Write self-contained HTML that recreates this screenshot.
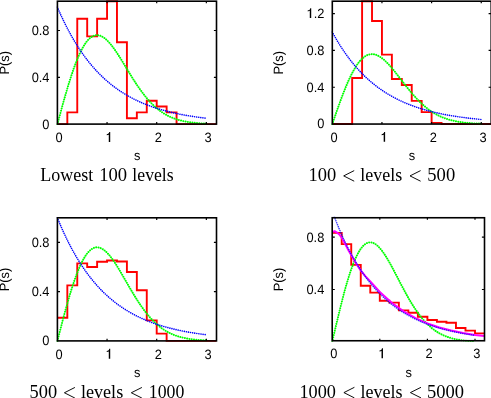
<!DOCTYPE html>
<html><head><meta charset="utf-8"><title>P(s)</title>
<style>html,body{margin:0;padding:0;background:#fff;}body{width:491px;height:398px;position:relative;overflow:hidden;font-family:"Liberation Sans",sans-serif;}</style>
</head><body><div style="will-change:transform;position:absolute;left:0;top:0;width:491px;height:398px">
<svg width="491" height="398" viewBox="0 0 491 398" style="position:absolute;left:0;top:0">
<rect width="491" height="398" fill="#fff"/>
<clipPath id="c0"><rect x="56.40" y="0.20" width="161.10" height="124.90"/></clipPath>
<g clip-path="url(#c0)" fill="none">
<path d="M57.40,124.10 L67.33,124.10 L67.33,112.40 L77.26,112.40 L77.26,18.80 L87.19,18.80 L87.19,36.35 L97.12,36.35 L97.12,18.80 L107.05,18.80 L107.05,1.20 L116.98,1.20 L116.98,42.20 L126.91,42.20 L126.91,118.25 L136.84,118.25 L136.84,112.40 L146.77,112.40 L146.77,100.70 L156.70,100.70 L156.70,106.55 L166.63,106.55 L166.63,112.40 L176.56,112.40 L176.56,124.10 L186.49,124.10 L186.49,124.10 L196.42,124.10 L196.42,124.10 L206.35,124.10 L206.35,124.10 L216.28,124.10" stroke="#ff0000" stroke-width="1.9" stroke-linejoin="miter"/>
<polyline points="57.40,124.10 58.39,120.43 59.39,116.76 60.38,113.10 61.37,109.47 62.36,105.87 63.36,102.29 64.35,98.76 65.34,95.28 66.34,91.85 67.33,88.48 68.32,85.18 69.32,81.94 70.31,78.79 71.30,75.71 72.30,72.73 73.29,69.83 74.28,67.04 75.27,64.34 76.27,61.75 77.26,59.27 78.25,56.90 79.25,54.64 80.24,52.50 81.23,50.49 82.22,48.59 83.22,46.82 84.21,45.17 85.20,43.65 86.20,42.26 87.19,40.99 88.18,39.85 89.18,38.83 90.17,37.95 91.16,37.19 92.16,36.55 93.15,36.03 94.14,35.64 95.13,35.36 96.13,35.20 97.12,35.16 98.11,35.23 99.11,35.40 100.10,35.68 101.09,36.07 102.09,36.55 103.08,37.13 104.07,37.79 105.06,38.55 106.06,39.39 107.05,40.31 108.04,41.30 109.04,42.36 110.03,43.50 111.02,44.69 112.02,45.94 113.01,47.25 114.00,48.60 114.99,50.01 115.99,51.45 116.98,52.93 117.97,54.44 118.97,55.98 119.96,57.55 120.95,59.14 121.94,60.74 122.94,62.36 123.93,63.99 124.92,65.63 125.92,67.27 126.91,68.91 127.90,70.54 128.90,72.18 129.89,73.80 130.88,75.41 131.88,77.01 132.87,78.59 133.86,80.16 134.85,81.70 135.85,83.23 136.84,84.72 137.83,86.20 138.83,87.65 139.82,89.07 140.81,90.46 141.81,91.82 142.80,93.14 143.79,94.44 144.78,95.70 145.78,96.94 146.77,98.13 147.76,99.30 148.76,100.42 149.75,101.52 150.74,102.58 151.73,103.60 152.73,104.59 153.72,105.55 154.71,106.47 155.71,107.36 156.70,108.22 157.69,109.04 158.69,109.83 159.68,110.59 160.67,111.32 161.66,112.01 162.66,112.68 163.65,113.32 164.64,113.93 165.64,114.51 166.63,115.07 167.62,115.60 168.62,116.10 169.61,116.58 170.60,117.04 171.59,117.47 172.59,117.88 173.58,118.27 174.57,118.64 175.57,118.99 176.56,119.32 177.55,119.63 178.55,119.92 179.54,120.20 180.53,120.46 181.53,120.71 182.52,120.94 183.51,121.16 184.50,121.36 185.50,121.56 186.49,121.74 187.48,121.91 188.48,122.06 189.47,122.21 190.46,122.35 191.46,122.48 192.45,122.60 193.44,122.72 194.43,122.82 195.43,122.92 196.42,123.01 197.41,123.10 198.41,123.17 199.40,123.25 200.39,123.32 201.38,123.38 202.38,123.44 203.37,123.49 204.36,123.54 205.36,123.59 206.35,123.63" stroke="#00ff00" stroke-width="2.0" stroke-linecap="round" stroke-dasharray="0.01 2.3"/>
<polyline points="57.40,7.10 58.39,9.42 59.39,11.69 60.38,13.91 61.37,16.10 62.36,18.23 63.36,20.33 64.35,22.39 65.34,24.40 66.34,26.37 67.33,28.31 68.32,30.21 69.32,32.06 70.31,33.89 71.30,35.67 72.30,37.42 73.29,39.14 74.28,40.82 75.27,42.47 76.27,44.09 77.26,45.67 78.25,47.23 79.25,48.75 80.24,50.24 81.23,51.70 82.22,53.14 83.22,54.54 84.21,55.92 85.20,57.27 86.20,58.59 87.19,59.89 88.18,61.16 89.18,62.41 90.17,63.63 91.16,64.83 92.16,66.00 93.15,67.15 94.14,68.28 95.13,69.38 96.13,70.47 97.12,71.53 98.11,72.57 99.11,73.59 100.10,74.59 101.09,75.57 102.09,76.53 103.08,77.47 104.07,78.40 105.06,79.30 106.06,80.19 107.05,81.06 108.04,81.91 109.04,82.75 110.03,83.56 111.02,84.37 112.02,85.15 113.01,85.93 114.00,86.68 114.99,87.42 115.99,88.15 116.98,88.86 117.97,89.56 118.97,90.24 119.96,90.91 120.95,91.57 121.94,92.21 122.94,92.85 123.93,93.46 124.92,94.07 125.92,94.67 126.91,95.25 127.90,95.82 128.90,96.38 129.89,96.93 130.88,97.47 131.88,97.99 132.87,98.51 133.86,99.02 134.85,99.51 135.85,100.00 136.84,100.48 137.83,100.95 138.83,101.40 139.82,101.85 140.81,102.29 141.81,102.73 142.80,103.15 143.79,103.56 144.78,103.97 145.78,104.37 146.77,104.76 147.76,105.14 148.76,105.52 149.75,105.89 150.74,106.25 151.73,106.60 152.73,106.95 153.72,107.29 154.71,107.62 155.71,107.95 156.70,108.27 157.69,108.58 158.69,108.89 159.68,109.19 160.67,109.48 161.66,109.77 162.66,110.06 163.65,110.33 164.64,110.61 165.64,110.87 166.63,111.14 167.62,111.39 168.62,111.64 169.61,111.89 170.60,112.13 171.59,112.37 172.59,112.60 173.58,112.83 174.57,113.05 175.57,113.27 176.56,113.49 177.55,113.70 178.55,113.90 179.54,114.10 180.53,114.30 181.53,114.50 182.52,114.69 183.51,114.87 184.50,115.06 185.50,115.23 186.49,115.41 187.48,115.58 188.48,115.75 189.47,115.92 190.46,116.08 191.46,116.24 192.45,116.39 193.44,116.55 194.43,116.69 195.43,116.84 196.42,116.99 197.41,117.13 198.41,117.26 199.40,117.40 200.39,117.53 201.38,117.66 202.38,117.79 203.37,117.91 204.36,118.04 205.36,118.16 206.35,118.27" stroke="#0000ff" stroke-width="1.6" stroke-linecap="round" stroke-dasharray="0.01 2.1"/>
</g>
<rect x="57.40" y="1.20" width="159.10" height="122.90" fill="none" stroke="#000" stroke-width="1.6"/>
<path d="M107.05,124.10v-2.1 M107.05,1.20v2.1 M156.70,124.10v-2.1 M156.70,1.20v2.1 M206.35,124.10v-2.1 M206.35,1.20v2.1 M57.40,77.30h2.6 M216.50,77.30h-2.6 M57.40,30.50h2.6 M216.50,30.50h-2.6" stroke="#000" stroke-width="1.2" fill="none"/>
<g font-family="Liberation Sans, sans-serif" font-size="13.5px" fill="#000" text-rendering="geometricPrecision">
<text transform="translate(49.50,128.50) scale(0.95,1)" text-anchor="end">0</text>
<text transform="translate(49.50,81.70) scale(0.95,1)" text-anchor="end">0.4</text>
<text transform="translate(49.50,34.90) scale(0.95,1)" text-anchor="end">0.8</text>
<text transform="translate(59.10,141.90) scale(0.95,1)" text-anchor="middle">0</text>
<path d="M110.22,141.90 V132.00 H109.25 C109.00,133.50 108.00,134.10 106.75,134.20 V135.25 C107.70,135.20 108.40,135.00 108.78,134.70 V141.90 Z" fill="#000" stroke="none"/>
<text transform="translate(158.40,141.90) scale(0.95,1)" text-anchor="middle">2</text>
<text transform="translate(208.05,141.90) scale(0.95,1)" text-anchor="middle">3</text>
<text transform="translate(137.25,160.20) scale(0.95,1)" text-anchor="middle">s</text>
<text transform="translate(8.50,62.85) rotate(-90) scale(0.95,1)" text-anchor="middle">P(s)</text>
</g>
<g font-family="Liberation Serif, serif" font-size="18.5px" fill="#000">
<text x="40.34" y="181.30" textLength="53.03" lengthAdjust="spacingAndGlyphs">Lowest</text>
<text x="99.22" y="181.30" textLength="27.94" lengthAdjust="spacingAndGlyphs">100</text>
<text x="132.36" y="181.30" textLength="41.28" lengthAdjust="spacingAndGlyphs">levels</text>
</g>
<clipPath id="c1"><rect x="331.30" y="0.20" width="160.90" height="124.85"/></clipPath>
<g clip-path="url(#c1)" fill="none">
<path d="M332.30,124.05 L342.23,124.05 L342.23,124.05 L352.16,124.05 L352.16,78.05 L362.09,78.05 L362.09,1.20 L372.02,1.20 L372.02,21.01 L381.95,21.01 L381.95,54.59 L391.88,54.59 L391.88,78.97 L401.81,78.97 L401.81,84.95 L411.74,84.95 L411.74,100.87 L421.67,100.87 L421.67,112.09 L431.60,112.09 L431.60,122.90 L441.53,122.90 L441.53,124.05 L451.46,124.05 L451.46,124.05 L461.39,124.05 L461.39,124.05 L471.32,124.05 L471.32,124.05 L481.25,124.05 L481.25,124.05 L491.18,124.05" stroke="#ff0000" stroke-width="1.9" stroke-linejoin="miter"/>
<polyline points="332.30,124.05 333.29,121.16 334.29,118.28 335.28,115.40 336.27,112.55 337.26,109.71 338.26,106.90 339.25,104.13 340.24,101.39 341.24,98.69 342.23,96.04 343.22,93.44 344.22,90.90 345.21,88.42 346.20,86.00 347.19,83.65 348.19,81.38 349.18,79.18 350.17,77.06 351.17,75.02 352.16,73.07 353.15,71.21 354.15,69.43 355.14,67.75 356.13,66.17 357.12,64.67 358.12,63.28 359.11,61.99 360.10,60.79 361.10,59.69 362.09,58.70 363.08,57.80 364.08,57.00 365.07,56.31 366.06,55.71 367.06,55.21 368.05,54.80 369.04,54.49 370.03,54.27 371.03,54.15 372.02,54.11 373.01,54.17 374.01,54.31 375.00,54.53 375.99,54.83 376.99,55.21 377.98,55.66 378.97,56.19 379.96,56.78 380.96,57.44 381.95,58.16 382.94,58.94 383.94,59.78 384.93,60.67 385.92,61.61 386.92,62.59 387.91,63.62 388.90,64.69 389.89,65.79 390.89,66.92 391.88,68.09 392.87,69.27 393.87,70.49 394.86,71.72 395.85,72.97 396.85,74.23 397.84,75.50 398.83,76.78 399.82,78.07 400.82,79.36 401.81,80.65 402.80,81.94 403.80,83.22 404.79,84.50 405.78,85.76 406.77,87.02 407.77,88.27 408.76,89.50 409.75,90.71 410.75,91.91 411.74,93.09 412.73,94.25 413.73,95.39 414.72,96.50 415.71,97.59 416.71,98.66 417.70,99.71 418.69,100.73 419.68,101.72 420.68,102.69 421.67,103.63 422.66,104.55 423.66,105.43 424.65,106.29 425.64,107.13 426.63,107.93 427.63,108.71 428.62,109.46 429.61,110.19 430.61,110.89 431.60,111.56 432.59,112.21 433.59,112.83 434.58,113.43 435.57,114.00 436.56,114.55 437.56,115.07 438.55,115.57 439.54,116.05 440.54,116.51 441.53,116.95 442.52,117.36 443.52,117.76 444.51,118.14 445.50,118.49 446.50,118.84 447.49,119.16 448.48,119.46 449.47,119.75 450.47,120.03 451.46,120.29 452.45,120.53 453.45,120.76 454.44,120.98 455.43,121.19 456.43,121.38 457.42,121.57 458.41,121.74 459.40,121.90 460.40,122.05 461.39,122.19 462.38,122.32 463.38,122.45 464.37,122.57 465.36,122.68 466.36,122.78 467.35,122.87 468.34,122.96 469.33,123.04 470.33,123.12 471.32,123.19 472.31,123.26 473.31,123.32 474.30,123.38 475.29,123.43 476.28,123.48 477.28,123.53 478.27,123.57 479.26,123.61 480.26,123.65 481.25,123.68" stroke="#00ff00" stroke-width="2.0" stroke-linecap="round" stroke-dasharray="0.01 2.3"/>
<polyline points="332.30,32.05 333.29,33.87 334.29,35.66 335.28,37.41 336.27,39.12 337.26,40.80 338.26,42.45 339.25,44.07 340.24,45.65 341.24,47.21 342.23,48.73 343.22,50.22 344.22,51.68 345.21,53.11 346.20,54.52 347.19,55.89 348.19,57.24 349.18,58.57 350.17,59.86 351.17,61.13 352.16,62.38 353.15,63.60 354.15,64.80 355.14,65.97 356.13,67.12 357.12,68.25 358.12,69.35 359.11,70.44 360.10,71.50 361.10,72.54 362.09,73.56 363.08,74.56 364.08,75.54 365.07,76.50 366.06,77.44 367.06,78.36 368.05,79.27 369.04,80.16 370.03,81.02 371.03,81.88 372.02,82.71 373.01,83.53 374.01,84.33 375.00,85.12 375.99,85.89 376.99,86.65 377.98,87.39 378.97,88.11 379.96,88.82 380.96,89.52 381.95,90.21 382.94,90.88 383.94,91.53 384.93,92.18 385.92,92.81 386.92,93.43 387.91,94.03 388.90,94.63 389.89,95.21 390.89,95.78 391.88,96.34 392.87,96.89 393.87,97.43 394.86,97.95 395.85,98.47 396.85,98.98 397.84,99.47 398.83,99.96 399.82,100.44 400.82,100.90 401.81,101.36 402.80,101.81 403.80,102.25 404.79,102.68 405.78,103.11 406.77,103.52 407.77,103.93 408.76,104.33 409.75,104.72 410.75,105.10 411.74,105.48 412.73,105.84 413.73,106.20 414.72,106.56 415.71,106.90 416.71,107.24 417.70,107.58 418.69,107.90 419.68,108.22 420.68,108.54 421.67,108.84 422.66,109.14 423.66,109.44 424.65,109.73 425.64,110.01 426.63,110.29 427.63,110.56 428.62,110.83 429.61,111.09 430.61,111.35 431.60,111.60 432.59,111.85 433.59,112.09 434.58,112.32 435.57,112.56 436.56,112.78 437.56,113.01 438.55,113.23 439.54,113.44 440.54,113.65 441.53,113.86 442.52,114.06 443.52,114.26 444.51,114.45 445.50,114.64 446.50,114.83 447.49,115.01 448.48,115.19 449.47,115.36 450.47,115.54 451.46,115.70 452.45,115.87 453.45,116.03 454.44,116.19 455.43,116.35 456.43,116.50 457.42,116.65 458.41,116.79 459.40,116.94 460.40,117.08 461.39,117.22 462.38,117.35 463.38,117.48 464.37,117.61 465.36,117.74 466.36,117.87 467.35,117.99 468.34,118.11 469.33,118.23 470.33,118.34 471.32,118.46 472.31,118.57 473.31,118.67 474.30,118.78 475.29,118.89 476.28,118.99 477.28,119.09 478.27,119.19 479.26,119.28 480.26,119.38 481.25,119.47" stroke="#0000ff" stroke-width="1.6" stroke-linecap="round" stroke-dasharray="0.01 2.1"/>
</g>
<rect x="332.30" y="1.20" width="158.90" height="122.85" fill="none" stroke="#000" stroke-width="1.6"/>
<path d="M381.95,124.05v-2.1 M381.95,1.20v2.1 M431.60,124.05v-2.1 M431.60,1.20v2.1 M481.25,124.05v-2.1 M481.25,1.20v2.1 M332.30,87.25h2.6 M491.20,87.25h-2.6 M332.30,50.45h2.6 M491.20,50.45h-2.6 M332.30,13.65h2.6 M491.20,13.65h-2.6" stroke="#000" stroke-width="1.2" fill="none"/>
<g font-family="Liberation Sans, sans-serif" font-size="13.5px" fill="#000" text-rendering="geometricPrecision">
<text transform="translate(324.40,128.45) scale(0.95,1)" text-anchor="end">0</text>
<text transform="translate(324.40,91.65) scale(0.95,1)" text-anchor="end">0.4</text>
<text transform="translate(324.40,54.85) scale(0.95,1)" text-anchor="end">0.8</text>
<text transform="translate(324.40,18.05) scale(0.95,1)" text-anchor="end">.2</text>
<path d="M311.22,18.05 V8.15 H310.25 C310.00,9.65 309.00,10.25 307.75,10.35 V11.40 C308.70,11.35 309.40,11.15 309.78,10.85 V18.05 Z" fill="#000" stroke="none"/>
<text transform="translate(334.00,141.85) scale(0.95,1)" text-anchor="middle">0</text>
<path d="M385.12,141.85 V131.95 H384.15 C383.90,133.45 382.90,134.05 381.65,134.15 V135.20 C382.60,135.15 383.30,134.95 383.68,134.65 V141.85 Z" fill="#000" stroke="none"/>
<text transform="translate(433.30,141.85) scale(0.95,1)" text-anchor="middle">2</text>
<text transform="translate(482.95,141.85) scale(0.95,1)" text-anchor="middle">3</text>
<text transform="translate(412.05,160.15) scale(0.95,1)" text-anchor="middle">s</text>
<text transform="translate(283.40,62.83) rotate(-90) scale(0.95,1)" text-anchor="middle">P(s)</text>
</g>
<g font-family="Liberation Serif, serif" font-size="18.5px" fill="#000">
<text x="308.43" y="181.25" textLength="27.71" lengthAdjust="spacingAndGlyphs">100</text>
<path d="M354.20,170.60 L343.70,175.90 L354.20,181.20" fill="none" stroke="#000" stroke-width="0.95" stroke-linejoin="miter"/>
<text x="360.24" y="181.25" textLength="41.98" lengthAdjust="spacingAndGlyphs">levels</text>
<path d="M420.60,170.60 L410.00,175.90 L420.60,181.20" fill="none" stroke="#000" stroke-width="0.95" stroke-linejoin="miter"/>
<text x="427.33" y="181.25" textLength="27.87" lengthAdjust="spacingAndGlyphs">500</text>
</g>
<clipPath id="c2"><rect x="56.40" y="216.80" width="161.10" height="125.10"/></clipPath>
<g clip-path="url(#c2)" fill="none">
<path d="M57.40,317.76 L67.33,317.76 L67.33,285.38 L77.26,285.38 L77.26,263.35 L87.19,263.35 L87.19,267.04 L97.12,267.04 L97.12,261.75 L107.05,261.75 L107.05,260.52 L116.98,260.52 L116.98,261.50 L126.91,261.50 L126.91,271.96 L136.84,271.96 L136.84,290.31 L146.77,290.31 L146.77,320.40 L156.70,320.40 L156.70,333.60 L166.63,333.60 L166.63,340.90 L176.56,340.90 L176.56,340.90 L186.49,340.90 L186.49,340.90 L196.42,340.90 L196.42,340.90 L206.35,340.90 L206.35,340.90 L216.28,340.90" stroke="#ff0000" stroke-width="1.9" stroke-linejoin="miter"/>
<polyline points="57.40,340.90 58.39,337.03 59.39,333.18 60.38,329.33 61.37,325.51 62.36,321.71 63.36,317.96 64.35,314.24 65.34,310.58 66.34,306.97 67.33,303.42 68.32,299.95 69.32,296.55 70.31,293.22 71.30,289.99 72.30,286.85 73.29,283.80 74.28,280.86 75.27,278.03 76.27,275.30 77.26,272.69 78.25,270.19 79.25,267.82 80.24,265.57 81.23,263.45 82.22,261.45 83.22,259.59 84.21,257.86 85.20,256.26 86.20,254.79 87.19,253.45 88.18,252.26 89.18,251.19 90.17,250.26 91.16,249.45 92.16,248.78 93.15,248.24 94.14,247.83 95.13,247.54 96.13,247.37 97.12,247.32 98.11,247.39 99.11,247.58 100.10,247.87 101.09,248.28 102.09,248.78 103.08,249.39 104.07,250.09 105.06,250.89 106.06,251.77 107.05,252.74 108.04,253.78 109.04,254.90 110.03,256.09 111.02,257.35 112.02,258.67 113.01,260.04 114.00,261.47 114.99,262.94 115.99,264.46 116.98,266.02 117.97,267.61 118.97,269.23 119.96,270.88 120.95,272.55 121.94,274.24 122.94,275.94 123.93,277.66 124.92,279.38 125.92,281.10 126.91,282.83 127.90,284.55 128.90,286.27 129.89,287.98 130.88,289.67 131.88,291.35 132.87,293.02 133.86,294.67 134.85,296.29 135.85,297.89 136.84,299.47 137.83,301.02 138.83,302.55 139.82,304.04 140.81,305.50 141.81,306.93 142.80,308.33 143.79,309.69 144.78,311.02 145.78,312.32 146.77,313.58 147.76,314.80 148.76,315.99 149.75,317.14 150.74,318.25 151.73,319.33 152.73,320.38 153.72,321.38 154.71,322.35 155.71,323.29 156.70,324.19 157.69,325.05 158.69,325.89 159.68,326.68 160.67,327.45 161.66,328.18 162.66,328.89 163.65,329.56 164.64,330.20 165.64,330.81 166.63,331.40 167.62,331.95 168.62,332.48 169.61,332.99 170.60,333.47 171.59,333.92 172.59,334.35 173.58,334.76 174.57,335.15 175.57,335.52 176.56,335.87 177.55,336.19 178.55,336.50 179.54,336.80 180.53,337.07 181.53,337.33 182.52,337.58 183.51,337.81 184.50,338.02 185.50,338.22 186.49,338.41 187.48,338.59 188.48,338.76 189.47,338.91 190.46,339.06 191.46,339.20 192.45,339.32 193.44,339.44 194.43,339.55 195.43,339.66 196.42,339.75 197.41,339.84 198.41,339.93 199.40,340.00 200.39,340.07 201.38,340.14 202.38,340.20 203.37,340.26 204.36,340.31 205.36,340.36 206.35,340.41" stroke="#00ff00" stroke-width="2.0" stroke-linecap="round" stroke-dasharray="0.01 2.3"/>
<polyline points="57.40,217.80 58.39,220.24 59.39,222.63 60.38,224.97 61.37,227.26 62.36,229.51 63.36,231.72 64.35,233.88 65.34,236.00 66.34,238.08 67.33,240.11 68.32,242.11 69.32,244.07 70.31,245.98 71.30,247.86 72.30,249.71 73.29,251.51 74.28,253.28 75.27,255.02 76.27,256.72 77.26,258.38 78.25,260.02 79.25,261.62 80.24,263.19 81.23,264.73 82.22,266.24 83.22,267.71 84.21,269.16 85.20,270.58 86.20,271.98 87.19,273.34 88.18,274.68 89.18,275.99 90.17,277.28 91.16,278.54 92.16,279.77 93.15,280.98 94.14,282.17 95.13,283.33 96.13,284.47 97.12,285.59 98.11,286.68 99.11,287.76 100.10,288.81 101.09,289.84 102.09,290.85 103.08,291.84 104.07,292.81 105.06,293.77 106.06,294.70 107.05,295.61 108.04,296.51 109.04,297.39 110.03,298.25 111.02,299.10 112.02,299.92 113.01,300.73 114.00,301.53 114.99,302.31 115.99,303.07 116.98,303.82 117.97,304.56 118.97,305.28 119.96,305.98 120.95,306.67 121.94,307.35 122.94,308.02 123.93,308.67 124.92,309.31 125.92,309.93 126.91,310.54 127.90,311.15 128.90,311.73 129.89,312.31 130.88,312.88 131.88,313.43 132.87,313.98 133.86,314.51 134.85,315.03 135.85,315.54 136.84,316.05 137.83,316.54 138.83,317.02 139.82,317.49 140.81,317.96 141.81,318.41 142.80,318.86 143.79,319.29 144.78,319.72 145.78,320.14 146.77,320.55 147.76,320.95 148.76,321.35 149.75,321.74 150.74,322.12 151.73,322.49 152.73,322.85 153.72,323.21 154.71,323.56 155.71,323.90 156.70,324.24 157.69,324.57 158.69,324.89 159.68,325.21 160.67,325.52 161.66,325.83 162.66,326.12 163.65,326.42 164.64,326.70 165.64,326.98 166.63,327.26 167.62,327.53 168.62,327.79 169.61,328.05 170.60,328.31 171.59,328.56 172.59,328.80 173.58,329.04 174.57,329.28 175.57,329.51 176.56,329.73 177.55,329.95 178.55,330.17 179.54,330.38 180.53,330.59 181.53,330.80 182.52,331.00 183.51,331.19 184.50,331.38 185.50,331.57 186.49,331.76 187.48,331.94 188.48,332.12 189.47,332.29 190.46,332.46 191.46,332.63 192.45,332.79 193.44,332.95 194.43,333.11 195.43,333.26 196.42,333.41 197.41,333.56 198.41,333.71 199.40,333.85 200.39,333.99 201.38,334.13 202.38,334.26 203.37,334.39 204.36,334.52 205.36,334.65 206.35,334.77" stroke="#0000ff" stroke-width="1.6" stroke-linecap="round" stroke-dasharray="0.01 2.1"/>
</g>
<rect x="57.40" y="217.80" width="159.10" height="123.10" fill="none" stroke="#000" stroke-width="1.6"/>
<path d="M107.05,340.90v-2.1 M107.05,217.80v2.1 M156.70,340.90v-2.1 M156.70,217.80v2.1 M206.35,340.90v-2.1 M206.35,217.80v2.1 M57.40,291.66h2.6 M216.50,291.66h-2.6 M57.40,242.42h2.6 M216.50,242.42h-2.6" stroke="#000" stroke-width="1.2" fill="none"/>
<g font-family="Liberation Sans, sans-serif" font-size="13.5px" fill="#000" text-rendering="geometricPrecision">
<text transform="translate(49.50,345.30) scale(0.95,1)" text-anchor="end">0</text>
<text transform="translate(49.50,296.06) scale(0.95,1)" text-anchor="end">0.4</text>
<text transform="translate(49.50,246.82) scale(0.95,1)" text-anchor="end">0.8</text>
<text transform="translate(59.10,358.70) scale(0.95,1)" text-anchor="middle">0</text>
<path d="M110.22,358.70 V348.80 H109.25 C109.00,350.30 108.00,350.90 106.75,351.00 V352.05 C107.70,352.00 108.40,351.80 108.78,351.50 V358.70 Z" fill="#000" stroke="none"/>
<text transform="translate(158.40,358.70) scale(0.95,1)" text-anchor="middle">2</text>
<text transform="translate(208.05,358.70) scale(0.95,1)" text-anchor="middle">3</text>
<text transform="translate(137.25,377.00) scale(0.95,1)" text-anchor="middle">s</text>
<text transform="translate(8.50,279.55) rotate(-90) scale(0.95,1)" text-anchor="middle">P(s)</text>
</g>
<g font-family="Liberation Serif, serif" font-size="18.5px" fill="#000">
<text x="29.54" y="398.10" textLength="27.56" lengthAdjust="spacingAndGlyphs">500</text>
<path d="M74.90,387.45 L64.40,392.75 L74.90,398.05" fill="none" stroke="#000" stroke-width="0.95" stroke-linejoin="miter"/>
<text x="80.88" y="398.10" textLength="42.32" lengthAdjust="spacingAndGlyphs">levels</text>
<path d="M141.90,387.45 L131.30,392.75 L141.90,398.05" fill="none" stroke="#000" stroke-width="0.95" stroke-linejoin="miter"/>
<text x="148.85" y="398.10" textLength="35.53" lengthAdjust="spacingAndGlyphs">1000</text>
</g>
<clipPath id="c3"><rect x="331.20" y="216.75" width="154.30" height="125.00"/></clipPath>
<g clip-path="url(#c3)" fill="none">
<path d="M332.20,232.91 L341.72,232.91 L341.72,244.17 L351.24,244.17 L351.24,264.87 L360.76,264.87 L360.76,285.70 L370.28,285.70 L370.28,292.64 L379.80,292.64 L379.80,300.77 L389.32,300.77 L389.32,302.60 L398.84,302.60 L398.84,310.33 L408.36,310.33 L408.36,312.82 L417.88,312.82 L417.88,316.75 L427.40,316.75 L427.40,320.02 L436.92,320.02 L436.92,321.73 L446.44,321.73 L446.44,322.77 L455.96,322.77 L455.96,328.01 L465.48,328.01 L465.48,330.63 L475.00,330.63 L475.00,333.38 L484.52,333.38" stroke="#ff0000" stroke-width="1.9" stroke-linejoin="miter"/>
<polyline points="332.20,341.90 333.15,337.79 334.10,333.68 335.06,329.59 336.01,325.52 336.96,321.48 337.91,317.48 338.86,313.53 339.82,309.63 340.77,305.79 341.72,302.02 342.67,298.32 343.62,294.70 344.58,291.17 345.53,287.72 346.48,284.38 347.43,281.14 348.38,278.01 349.34,274.99 350.29,272.09 351.24,269.31 352.19,266.66 353.14,264.13 354.10,261.74 355.05,259.48 356.00,257.36 356.95,255.37 357.90,253.53 358.86,251.82 359.81,250.26 360.76,248.84 361.71,247.57 362.66,246.43 363.62,245.44 364.57,244.59 365.52,243.87 366.47,243.29 367.42,242.85 368.38,242.55 369.33,242.37 370.28,242.32 371.23,242.39 372.18,242.59 373.14,242.90 374.09,243.33 375.04,243.87 375.99,244.52 376.94,245.27 377.90,246.11 378.85,247.05 379.80,248.08 380.75,249.19 381.70,250.38 382.66,251.65 383.61,252.99 384.56,254.39 385.51,255.85 386.46,257.37 387.42,258.94 388.37,260.55 389.32,262.21 390.27,263.91 391.22,265.63 392.18,267.39 393.13,269.16 394.08,270.96 395.03,272.77 395.98,274.60 396.94,276.43 397.89,278.27 398.84,280.10 399.79,281.94 400.74,283.76 401.70,285.58 402.65,287.38 403.60,289.17 404.55,290.95 405.50,292.70 406.46,294.43 407.41,296.13 408.36,297.81 409.31,299.46 410.26,301.08 411.22,302.67 412.17,304.23 413.12,305.75 414.07,307.24 415.02,308.69 415.98,310.11 416.93,311.48 417.88,312.83 418.83,314.13 419.78,315.39 420.74,316.62 421.69,317.80 422.64,318.95 423.59,320.06 424.54,321.13 425.50,322.16 426.45,323.16 427.40,324.12 428.35,325.04 429.30,325.92 430.26,326.77 431.21,327.59 432.16,328.37 433.11,329.11 434.06,329.83 435.02,330.51 435.97,331.16 436.92,331.79 437.87,332.38 438.82,332.94 439.78,333.48 440.73,333.99 441.68,334.47 442.63,334.93 443.58,335.37 444.54,335.78 445.49,336.17 446.44,336.54 447.39,336.89 448.34,337.22 449.30,337.53 450.25,337.83 451.20,338.10 452.15,338.36 453.10,338.61 454.06,338.84 455.01,339.05 455.96,339.25 456.91,339.44 457.86,339.62 458.82,339.79 459.77,339.94 460.72,340.09 461.67,340.22 462.62,340.35 463.58,340.47 464.53,340.58 465.48,340.68 466.43,340.78 467.38,340.86 468.34,340.95 469.29,341.02 470.24,341.09 471.19,341.16 472.14,341.22 473.10,341.27 474.05,341.33 475.00,341.37" stroke="#00ff00" stroke-width="2.0" stroke-linecap="round" stroke-dasharray="0.01 2.3"/>
<polyline points="332.20,231.86 334.58,231.20 336.96,232.51 339.34,234.48 341.72,237.75 344.10,242.08 346.48,246.53 348.86,250.99 355.05,261.86 361.24,271.16 365.52,276.40 370.28,281.38 379.80,291.99 391.70,302.73 403.60,311.38 415.50,318.06 427.40,323.43 439.30,327.44 451.20,330.57 463.10,332.99 475.00,334.89 484.52,336.00" stroke="#ff00ff" stroke-width="2.0" stroke-linejoin="round"/>
<polyline points="332.20,210.90 333.15,213.49 334.10,216.04 335.06,218.53 336.01,220.97 336.96,223.37 337.91,225.71 338.86,228.01 339.82,230.27 340.77,232.48 341.72,234.65 342.67,236.77 343.62,238.85 344.58,240.89 345.53,242.89 346.48,244.85 347.43,246.77 348.38,248.66 349.34,250.50 350.29,252.31 351.24,254.09 352.19,255.83 353.14,257.53 354.10,259.20 355.05,260.84 356.00,262.44 356.95,264.02 357.90,265.56 358.86,267.07 359.81,268.55 360.76,270.01 361.71,271.43 362.66,272.82 363.62,274.19 364.57,275.53 365.52,276.85 366.47,278.14 367.42,279.40 368.38,280.64 369.33,281.85 370.28,283.04 371.23,284.20 372.18,285.35 373.14,286.47 374.09,287.56 375.04,288.64 375.99,289.69 376.94,290.73 377.90,291.74 378.85,292.73 379.80,293.71 380.75,294.66 381.70,295.60 382.66,296.51 383.61,297.41 384.56,298.29 385.51,299.16 386.46,300.00 387.42,300.83 388.37,301.65 389.32,302.44 390.27,303.22 391.22,303.99 392.18,304.74 393.13,305.48 394.08,306.20 395.03,306.91 395.98,307.60 396.94,308.28 397.89,308.94 398.84,309.60 399.79,310.24 400.74,310.86 401.70,311.48 402.65,312.08 403.60,312.67 404.55,313.25 405.50,313.82 406.46,314.37 407.41,314.92 408.36,315.45 409.31,315.98 410.26,316.49 411.22,316.99 412.17,317.49 413.12,317.97 414.07,318.44 415.02,318.91 415.98,319.36 416.93,319.81 417.88,320.25 418.83,320.67 419.78,321.09 420.74,321.51 421.69,321.91 422.64,322.31 423.59,322.69 424.54,323.07 425.50,323.45 426.45,323.81 427.40,324.17 428.35,324.52 429.30,324.87 430.26,325.20 431.21,325.53 432.16,325.86 433.11,326.18 434.06,326.49 435.02,326.79 435.97,327.09 436.92,327.38 437.87,327.67 438.82,327.95 439.78,328.23 440.73,328.50 441.68,328.77 442.63,329.03 443.58,329.28 444.54,329.53 445.49,329.78 446.44,330.02 447.39,330.25 448.34,330.48 449.30,330.71 450.25,330.93 451.20,331.15 452.15,331.36 453.10,331.57 454.06,331.77 455.01,331.97 455.96,332.17 456.91,332.36 457.86,332.55 458.82,332.74 459.77,332.92 460.72,333.10 461.67,333.27 462.62,333.44 463.58,333.61 464.53,333.77 465.48,333.93 466.43,334.09 467.38,334.25 468.34,334.40 469.29,334.55 470.24,334.69 471.19,334.83 472.14,334.97 473.10,335.11 474.05,335.25 475.00,335.38" stroke="#0000ff" stroke-width="1.6" stroke-linecap="round" stroke-dasharray="0.01 2.1" stroke-opacity="0.75"/>
</g>
<rect x="332.20" y="217.75" width="152.30" height="123.00" fill="none" stroke="#000" stroke-width="1.6"/>
<path d="M379.80,340.75v-2.1 M379.80,217.75v2.1 M427.40,340.75v-2.1 M427.40,217.75v2.1 M475.00,340.75v-2.1 M475.00,217.75v2.1 M332.20,289.50h2.6 M484.50,289.50h-2.6 M332.20,237.10h2.6 M484.50,237.10h-2.6" stroke="#000" stroke-width="1.2" fill="none"/>
<g font-family="Liberation Sans, sans-serif" font-size="13.5px" fill="#000" text-rendering="geometricPrecision">
<text transform="translate(324.30,293.90) scale(0.95,1)" text-anchor="end">0.4</text>
<text transform="translate(324.30,241.50) scale(0.95,1)" text-anchor="end">0.8</text>
<text transform="translate(333.90,358.25) scale(0.95,1)" text-anchor="middle">0</text>
<path d="M382.97,358.25 V348.35 H382.00 C381.75,349.85 380.75,350.45 379.50,350.55 V351.60 C380.45,351.55 381.15,351.35 381.53,351.05 V358.25 Z" fill="#000" stroke="none"/>
<text transform="translate(429.10,358.25) scale(0.95,1)" text-anchor="middle">2</text>
<text transform="translate(476.70,358.25) scale(0.95,1)" text-anchor="middle">3</text>
<text transform="translate(408.65,376.85) scale(0.95,1)" text-anchor="middle">s</text>
<text transform="translate(283.30,279.45) rotate(-90) scale(0.95,1)" text-anchor="middle">P(s)</text>
</g>
<g font-family="Liberation Serif, serif" font-size="18.5px" fill="#000">
<text x="299.47" y="397.95" textLength="36.48" lengthAdjust="spacingAndGlyphs">1000</text>
<path d="M354.40,387.30 L343.90,392.60 L354.40,397.90" fill="none" stroke="#000" stroke-width="0.95" stroke-linejoin="miter"/>
<text x="360.52" y="397.95" textLength="42.04" lengthAdjust="spacingAndGlyphs">levels</text>
<path d="M421.00,387.30 L410.40,392.60 L421.00,397.90" fill="none" stroke="#000" stroke-width="0.95" stroke-linejoin="miter"/>
<text x="427.11" y="397.95" textLength="37.02" lengthAdjust="spacingAndGlyphs">5000</text>
</g>
</svg>
</div></body></html>
